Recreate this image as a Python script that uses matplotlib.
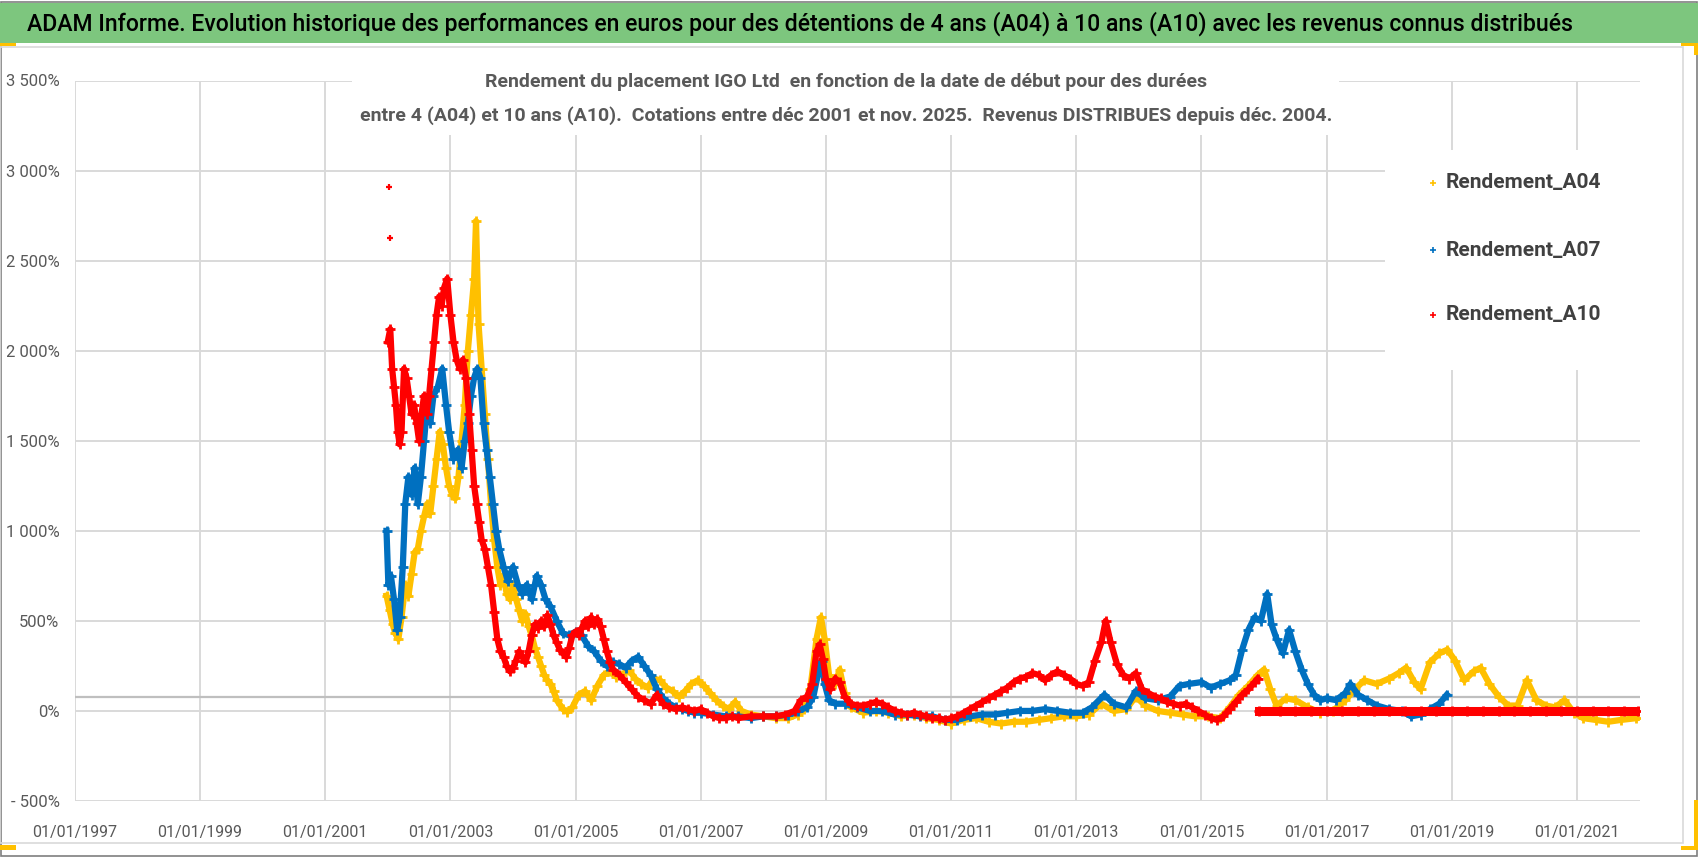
import matplotlib
matplotlib.use("Agg")
import matplotlib.pyplot as plt
from matplotlib.patches import Rectangle
from matplotlib.lines import Line2D
from matplotlib import font_manager

# --- data (date as decimal year, return in %) ---
a04_dates = [2001.98, 2002.03, 2002.08, 2002.12, 2002.17, 2002.22, 2002.28, 2002.33, 2002.38, 2002.43,
             2002.48, 2002.53, 2002.58, 2002.63, 2002.68, 2002.73, 2002.78, 2002.83, 2002.88, 2002.93,
             2002.98, 2003.03, 2003.08, 2003.13, 2003.18, 2003.23, 2003.28, 2003.33, 2003.38, 2003.41,
             2003.45, 2003.50, 2003.55, 2003.60, 2003.65, 2003.70, 2003.75, 2003.80, 2003.85, 2003.90,
             2003.95, 2004.00, 2004.05, 2004.10, 2004.15, 2004.20, 2004.25, 2004.30, 2004.35, 2004.40,
             2004.45, 2004.50, 2004.55, 2004.60, 2004.65, 2004.70, 2004.80, 2004.87, 2004.95, 2005.05,
             2005.15, 2005.25, 2005.35, 2005.45, 2005.55, 2005.65, 2005.75, 2005.85, 2005.95, 2006.05,
             2006.15, 2006.25, 2006.35, 2006.45, 2006.55, 2006.65, 2006.75, 2006.85, 2006.95, 2007.05,
             2007.15, 2007.25, 2007.35, 2007.45, 2007.55, 2007.65, 2007.80, 2008.00, 2008.20, 2008.40,
             2008.55, 2008.65, 2008.75, 2008.85, 2008.92, 2008.98, 2009.05, 2009.15, 2009.22, 2009.30,
             2009.40, 2009.60, 2009.80, 2010.00, 2010.20, 2010.40, 2010.60, 2010.80, 2011.00, 2011.20,
             2011.40, 2011.60, 2011.80, 2012.00, 2012.20, 2012.40, 2012.60, 2012.80, 2013.00, 2013.20,
             2013.40, 2013.60, 2013.80, 2013.95, 2014.10, 2014.30, 2014.50, 2014.70, 2014.90, 2015.10,
             2015.30, 2015.45, 2015.60, 2015.75, 2015.90, 2016.00, 2016.10, 2016.20, 2016.35, 2016.50,
             2016.70, 2016.90, 2017.10, 2017.30, 2017.45, 2017.60, 2017.80, 2018.00, 2018.15, 2018.27,
             2018.40, 2018.50, 2018.65, 2018.80, 2018.93, 2019.05, 2019.20, 2019.35, 2019.46, 2019.60,
             2019.75, 2019.90, 2020.05, 2020.20, 2020.35, 2020.50, 2020.65, 2020.80, 2020.95, 2021.10,
             2021.30, 2021.50, 2021.70, 2021.95]
a04_values = [640, 560, 480, 430, 400, 520, 700, 640, 760, 880,
              900, 1000, 1080, 1150, 1100, 1250, 1400, 1550, 1480, 1350,
              1250, 1200, 1180, 1300, 1500, 1700, 2000, 2200, 2400, 2720,
              2150, 1900, 1650, 1400, 1150, 950, 800, 700, 750, 650,
              620, 700, 620, 560, 500, 540, 470, 420, 350, 300,
              250, 200, 170, 150, 110, 60, 10, -5, 20, 90,
              110, 60, 140, 200, 220, 190, 200, 230, 180, 150,
              130, 180, 170, 130, 110, 80, 110, 150, 170, 140,
              100, 60, 30, 10, 50, 0, -20, -30, -40, -40,
              -20, 10, 120, 400, 520, 400, 200, 150, 230, 100,
              20, -10, 0, -10, -30, -20, -40, -50, -70, -50,
              -40, -60, -70, -60, -60, -50, -40, -30, -30, -20,
              40, 0, 10, 80, 30, 0, -10, -20, -30, -30,
              -40, 20, 90, 140, 200, 230, 120, 30, 70, 60,
              20, -10, 0, 60, 120, 170, 150, 180, 210, 240,
              160, 120, 270, 320, 340, 280, 170, 220, 240, 150,
              80, 30, 30, 170, 60, 30, 20, 60, -10, -40,
              -50, -60, -50, -40]

a07_dates = [2001.98, 2002.01, 2002.05, 2002.10, 2002.15, 2002.19, 2002.24, 2002.28, 2002.33, 2002.38,
             2002.43, 2002.48, 2002.53, 2002.58, 2002.63, 2002.68, 2002.73, 2002.80, 2002.87, 2002.93,
             2002.98, 2003.05, 2003.12, 2003.18, 2003.23, 2003.28, 2003.33, 2003.38, 2003.43, 2003.48,
             2003.53, 2003.58, 2003.63, 2003.68, 2003.73, 2003.78, 2003.85, 2003.92, 2004.00, 2004.08,
             2004.15, 2004.22, 2004.30, 2004.38, 2004.45, 2004.52, 2004.60, 2004.70, 2004.80, 2004.90,
             2005.00, 2005.10, 2005.20, 2005.30, 2005.40, 2005.50, 2005.60, 2005.70, 2005.80, 2005.90,
             2006.00, 2006.10, 2006.20, 2006.30, 2006.40, 2006.50, 2006.60, 2006.70, 2006.80, 2006.90,
             2007.00, 2007.20, 2007.40, 2007.60, 2007.80, 2008.00, 2008.20, 2008.40, 2008.55, 2008.70,
             2008.80, 2008.87, 2008.93, 2008.98, 2009.05, 2009.15, 2009.30, 2009.50, 2009.70, 2009.90,
             2010.10, 2010.30, 2010.50, 2010.70, 2010.90, 2011.10, 2011.30, 2011.50, 2011.70, 2011.90,
             2012.10, 2012.30, 2012.50, 2012.70, 2012.90, 2013.10, 2013.25, 2013.45, 2013.60, 2013.80,
             2013.95, 2014.10, 2014.30, 2014.50, 2014.65, 2014.80, 2015.00, 2015.15, 2015.30, 2015.45,
             2015.55, 2015.65, 2015.75, 2015.85, 2015.95, 2016.05, 2016.12, 2016.20, 2016.30, 2016.40,
             2016.50, 2016.60, 2016.70, 2016.80, 2016.90, 2017.00, 2017.15, 2017.30, 2017.38, 2017.50,
             2017.65, 2017.80, 2018.00, 2018.20, 2018.35, 2018.50, 2018.65, 2018.80, 2018.92]
a07_values = [1000, 700, 750, 620, 450, 520, 800, 1150, 1300, 1200,
              1350, 1150, 1300, 1500, 1700, 1600, 1750, 1800, 1900, 1700,
              1550, 1400, 1450, 1350, 1500, 1600, 1750, 1850, 1900, 1850,
              1600, 1450, 1300, 1150, 1000, 900, 800, 720, 800, 700,
              650, 700, 620, 750, 700, 620, 580, 500, 430, 420,
              440, 420, 360, 330, 280, 250, 270, 260, 240, 280,
              300, 250, 200, 120, 70, 40, 20, 10, 0, -10,
              -10, -20, -30, -30, -40, -30, -30, -20, 0, 20,
              80, 200, 280, 150, 60, 40, 40, 20, 0, 0,
              -20, -20, -30, -30, -50, -50, -30, -20, -20, -10,
              0, 0, 10, 0, -10, -10, 20, 90, 40, 20,
              110, 70, 60, 80, 140, 150, 160, 130, 150, 170,
              200, 340, 450, 520, 500, 650, 480, 400, 320, 450,
              330, 230, 150, 90, 60, 70, 60, 100, 150, 90,
              60, 30, 10, 0, -30, -20, 10, 40, 90]

a10_dates = [2002.00, 2002.04, 2002.07, 2002.10, 2002.13, 2002.16, 2002.19, 2002.22, 2002.26, 2002.30,
             2002.34, 2002.38, 2002.42, 2002.46, 2002.50, 2002.54, 2002.58, 2002.62, 2002.66, 2002.70,
             2002.74, 2002.78, 2002.82, 2002.86, 2002.90, 2002.95, 2003.00, 2003.05, 2003.10, 2003.15,
             2003.20, 2003.25, 2003.30, 2003.34, 2003.38, 2003.42, 2003.46, 2003.50, 2003.55, 2003.60,
             2003.65, 2003.70, 2003.75, 2003.80, 2003.85, 2003.90, 2003.95, 2004.00, 2004.05, 2004.10,
             2004.15, 2004.20, 2004.25, 2004.30, 2004.35, 2004.40, 2004.45, 2004.50, 2004.55, 2004.60,
             2004.65, 2004.70, 2004.75, 2004.80, 2004.85, 2004.90, 2004.95, 2005.00, 2005.05, 2005.10,
             2005.15, 2005.20, 2005.25, 2005.30, 2005.35, 2005.40, 2005.45, 2005.50, 2005.55, 2005.60,
             2005.70, 2005.80, 2005.90, 2006.00, 2006.10, 2006.20, 2006.30, 2006.40, 2006.50, 2006.60,
             2006.70, 2006.80, 2006.90, 2007.00, 2007.10, 2007.20, 2007.30, 2007.40, 2007.50, 2007.60,
             2007.80, 2008.00, 2008.20, 2008.35, 2008.50, 2008.60, 2008.70, 2008.78, 2008.85, 2008.90,
             2008.95, 2009.00, 2009.07, 2009.15, 2009.22, 2009.30, 2009.40, 2009.50, 2009.60, 2009.70,
             2009.80, 2009.90, 2010.00, 2010.10, 2010.20, 2010.30, 2010.40, 2010.50, 2010.60, 2010.70,
             2010.80, 2010.90, 2011.00, 2011.10, 2011.20, 2011.30, 2011.40, 2011.50, 2011.60, 2011.70,
             2011.80, 2011.90, 2012.00, 2012.10, 2012.20, 2012.30, 2012.40, 2012.50, 2012.60, 2012.70,
             2012.80, 2012.90, 2013.00, 2013.10, 2013.20, 2013.30, 2013.40, 2013.47, 2013.55, 2013.65,
             2013.75, 2013.85, 2013.95, 2014.05, 2014.15, 2014.25, 2014.35, 2014.45, 2014.55, 2014.65,
             2014.75, 2014.85, 2014.95, 2015.05, 2015.15, 2015.25, 2015.35, 2015.45, 2015.55, 2015.65,
             2015.75, 2015.85, 2015.90]
a10_values = [2050, 2120, 1900, 1800, 1700, 1550, 1480, 1550, 1900, 1850,
              1750, 1650, 1700, 1600, 1500, 1650, 1750, 1650, 1750, 1900,
              2050, 2200, 2300, 2250, 2350, 2400, 2200, 2050, 1950, 1900,
              1950, 1850, 1650, 1450, 1250, 1150, 1050, 950, 900, 800,
              700, 550, 400, 330, 300, 250, 220, 240, 280, 330,
              300, 270, 330, 420, 480, 460, 500, 470, 530, 480,
              420, 380, 340, 320, 300, 350, 420, 440, 420, 460,
              500, 470, 520, 480, 510, 470, 400, 330, 270, 230,
              200, 160, 120, 80, 60, 40, 90, 40, 20, 10,
              20, 10, 0, 10, -10, -30, -40, -40, -30, -40,
              -30, -30, -30, -20, 0, 60, 80, 150, 330, 370,
              290, 180, 120, 180, 160, 80, 40, 30, 30, 40,
              50, 40, 20, 0, -10, -20, -10, -20, -30, -40,
              -40, -50, -40, -30, -10, 10, 30, 50, 70, 90,
              110, 130, 160, 180, 190, 210, 200, 170, 200, 220,
              200, 180, 150, 140, 160, 280, 380, 500, 380, 260,
              200, 180, 210, 120, 100, 80, 70, 50, 40, 30,
              40, 20, 0, -20, -40, -50, -30, 10, 50, 90,
              120, 160, 180]
# isolated high points at the very start of A10
a10_spike_dates = [2002.02, 2002.03]
a10_spike_values = [2910, 2625]
# A10 has no 10-year window after end 2015: shown as a flat 0 line
a10_flat_dates = [2015.92, 2016.25, 2016.50, 2016.75, 2017.00, 2017.25, 2017.50, 2017.75, 2018.00,
                  2018.25, 2018.50, 2018.75, 2019.00, 2019.25, 2019.50, 2019.75, 2020.00, 2020.25,
                  2020.50, 2020.75, 2021.00, 2021.25, 2021.50, 2021.75, 2021.98]
a10_flat_values = [0] * len(a10_flat_dates)

axis_cross_value = 75

x_tick_years = [1997, 1999, 2001, 2003, 2005, 2007, 2009, 2011, 2013, 2015, 2017, 2019, 2021]
x_tick_labels = ["01/01/1997", "01/01/1999", "01/01/2001", "01/01/2003", "01/01/2005", "01/01/2007",
                 "01/01/2009", "01/01/2011", "01/01/2013", "01/01/2015", "01/01/2017", "01/01/2019",
                 "01/01/2021"]
y_tick_values = [-500, 0, 500, 1000, 1500, 2000, 2500, 3000, 3500]
y_tick_labels = ["- 500%", "0%", "500%", "1 000%", "1 500%", "2 000%", "2 500%", "3 000%", "3 500%"]

series_names = ["Rendement_A04", "Rendement_A07", "Rendement_A10"]
series_colors = ["#FFC000", "#0070C0", "#FF0000"]

banner_text = ("ADAM Informe. Evolution historique des performances en euros pour des détentions "
               "de 4 ans (A04) à 10 ans (A10) avec les revenus connus distribués")
title_line1 = "Rendement du placement IGO Ltd  en fonction de la date de début pour des durées"
title_line2 = ("entre 4 (A04) et 10 ans (A10).  Cotations entre déc 2001 et nov. 2025.  "
               "Revenus DISTRIBUES depuis déc. 2004.")

# --- layout helpers (pixel positions of the 1698x857 picture) ---
W, H = 1698, 857
installed = {f.name for f in font_manager.fontManager.ttflist}
NARROW = "Liberation Sans Narrow" if "Liberation Sans Narrow" in installed else "Roboto"
FONT = [NARROW, "DejaVu Sans"]
GREY_TXT = "#595959"
GRID = "#D9D9D9"


def fx(px):
    return px / W


def fy(py):
    return 1 - py / H


fig = plt.figure(figsize=(W / 100, H / 100), dpi=100)
fig.patch.set_facecolor("white")

# outer frame, banner and chart-area frame
fig.add_artist(Rectangle((fx(1), fy(856)), fx(1696), 854 / H, transform=fig.transFigure,
                         fill=False, edgecolor="#7F7F7F", lw=1.2))
fig.add_artist(Rectangle((0, fy(43)), 1, 40 / H, transform=fig.transFigure,
                         facecolor="#7DC67E", edgecolor="none"))
fig.add_artist(Rectangle((fx(0), fy(843)), fx(1683), 796 / H, transform=fig.transFigure,
                         fill=False, edgecolor=GRID, lw=1.2))
for x0, y0, w, h in [(0, 43, 16, 3), (1681, 43, 17, 3), (1694, 43, 4, 12),
                     (0, 845, 16, 5), (1694, 800, 4, 50), (1681, 846, 17, 4)]:
    fig.add_artist(Rectangle((fx(x0), fy(y0 + h)), fx(w), h / H, transform=fig.transFigure,
                             facecolor="#FFC000", edgecolor="none"))

fig.text(fx(27), fy(24), banner_text, family=FONT, fontsize=16.6, fontweight="medium",
         color="black", ha="left", va="center")

# plot area
left, right, top, bottom = 74.8, 1639.6, 80.5, 801
ax = fig.add_axes([fx(left), fy(bottom), fx(right - left), (bottom - top) / H])
ax.set_xlim(1997, 2022)
ax.set_ylim(-500, 3500)
ax.set_axisbelow(True)
ax.grid(True, color=GRID, lw=1.4)
for s in ax.spines.values():
    s.set_visible(False)
ax.set_xticks(x_tick_years)
ax.set_xticklabels(x_tick_labels)
ax.set_yticks(y_tick_values)
ax.set_yticklabels(y_tick_labels)
ax.tick_params(axis="both", length=0, colors=GREY_TXT, labelsize=12)
ax.tick_params(axis="x", pad=17, labelsize=11.5)
ax.tick_params(axis="y", pad=11)
for lab in ax.get_xticklabels() + ax.get_yticklabels():
    lab.set_family(FONT)
ax.axhline(axis_cross_value, color="#BFBFBF", lw=1.6, zorder=1)

# white boxes of the chart title and legend hide the gridlines behind them
for x0, y0, x1, y1 in [(352, 58, 1339, 135), (1385, 150, 1645, 370)]:
    ax.add_patch(Rectangle((fx(x0), fy(y1)), fx(x1 - x0), (y1 - y0) / H, transform=fig.transFigure,
                           facecolor="white", edgecolor="none", zorder=1.2, clip_on=False))

mk = dict(marker="+", ms=7, mew=2)
ax.plot(a04_dates, a04_values, color=series_colors[0], lw=4.5, zorder=2, **mk)
ax.plot(a07_dates, a07_values, color=series_colors[1], lw=4.5, zorder=3, **mk)
ax.plot(a10_dates, a10_values, color=series_colors[2], lw=4.5, zorder=4, **mk)
ax.plot(a10_spike_dates, a10_spike_values, color=series_colors[2], lw=0, zorder=4,
        marker="+", ms=5, mew=1.6)
ax.plot(a10_flat_dates, a10_flat_values, color=series_colors[2], lw=6.5, zorder=4, **mk)

# chart title
fig.text(fx(846), fy(82), title_line1, family=FONT, fontsize=14, fontweight="bold",
         color=GREY_TXT, ha="center", va="center")
fig.text(fx(846), fy(116), title_line2, family=FONT, fontsize=14, fontweight="bold",
         color=GREY_TXT, ha="center", va="center")

# legend
for name, color, py in zip(series_names, series_colors, [183, 250, 315]):
    fig.add_artist(Line2D([fx(1433)], [fy(py)], transform=fig.transFigure, color=color,
                          marker="+", ms=5, mew=1.2, lw=0))
    fig.text(fx(1446), fy(py), name, family=FONT, fontsize=15, fontweight="bold",
             color="#404040", ha="left", va="center")

fig.savefig("out.png", dpi=100)
